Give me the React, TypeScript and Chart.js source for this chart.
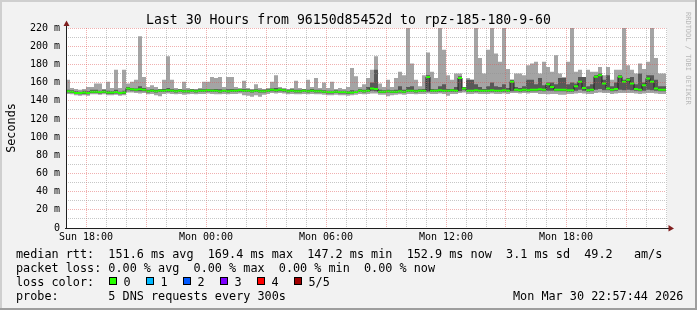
import React, { useEffect, useRef } from 'react';
import { Chart, registerables } from 'chart.js';

Chart.register(...registerables);

const W = 697;
const H = 310;

// 30 hours of data in 12-minute buckets (150 buckets), times in hours since Sun 17:00
const BUCKET_HOURS = 0.2;
const SPAN_HOURS = 30;

// median rtt (ms)
const rttMedian = [
  150, 150.5, 150, 148.5, 148.5, 149, 148.5, 150, 150, 149.5,
  150, 149, 149, 149.5, 148.5, 149, 153.5, 152.5, 152, 152.5,
  152, 150.5, 151, 150.5, 151, 151, 151.5, 151, 150.5, 151,
  150.5, 150.5, 151, 150.5, 151, 151, 151.5, 151, 151, 150.5,
  151, 150.5, 151, 151, 151.5, 151, 151, 150.5, 151, 150.5,
  150.5, 151, 152, 151.5, 152, 151.5, 150.5, 151, 150.5, 150.5,
  151, 150.5, 151, 150.5, 150.5, 150, 149.5, 149.5, 150, 149.5,
  149.5, 149, 149, 149.5, 151, 150.5, 151, 153.5, 153, 150,
  150, 150.5, 150, 150, 150.5, 150, 151, 151, 150.5, 151,
  151, 166, 151, 151, 151.5, 151, 151, 151.5, 151, 165,
  153.5, 151, 151, 151.5, 151, 151, 151, 151.5, 151, 151,
  151.5, 151, 161, 152, 151.5, 152, 151.5, 152, 152, 152.5,
  152, 158, 155, 152, 152, 152, 151.5, 151.5, 156, 161,
  154, 151.5, 152, 166.5, 168, 159, 153.5, 152, 153, 166.5,
  161, 163, 159, 153, 152, 157, 164.5, 161, 153.5, 152,
];

// highest ping of each bucket (outer smoke top)
const rttMax = [
  163, 163, 154, 153, 152, 153, 155, 155, 159, 159,
  153, 161, 154, 174, 154, 174, 159, 161, 163, 211,
  166, 155, 157, 155, 153, 163, 189, 163, 154, 153,
  161, 154, 153, 153, 154, 161, 161, 166, 165, 166,
  155, 166, 166, 155, 154, 162, 154, 153, 158, 154,
  153, 154, 161, 168, 155, 154, 153, 154, 162, 154,
  153, 163, 155, 165, 154, 160, 154, 161, 153, 154,
  153, 155, 176, 167, 155, 158, 165, 174, 189, 159,
  155, 163, 155, 165, 172, 168, 220, 181, 163, 156,
  168, 193, 172, 165, 220, 196, 168, 163, 170, 170,
  155, 165, 163, 220, 187, 170, 196, 220, 192, 183,
  220, 175, 163, 170, 170, 168, 179, 181, 183, 170,
  183, 177, 172, 190, 170, 166, 183, 220, 172, 174,
  163, 174, 172, 172, 177, 168, 177, 163, 174, 174,
  220, 179, 174, 170, 181, 175, 183, 220, 187, 170,
];

// 4th of 5 pings (inner smoke top)
const rttHigh = [
  152, 152, 151.5, 150.5, 150, 151, 150.5, 152, 152, 151,
  152, 151, 150.5, 152, 150, 151, 155, 154, 153.5, 156,
  154, 152, 152.5, 152, 152.5, 153, 154, 152.5, 152, 152.5,
  152, 152, 152.5, 152, 152.5, 152.5, 153, 152.5, 153, 152.5,
  152, 152.5, 153, 152.5, 153, 153, 152.5, 152, 152.5, 152,
  152, 152.5, 153.5, 154, 153.5, 153, 152, 152.5, 152, 152,
  152.5, 152, 153, 152, 152, 151.5, 151, 151, 151.5, 151,
  151, 150.5, 151.5, 151, 152.5, 152, 155, 160, 174, 152,
  151.5, 152, 151.5, 152, 156, 152, 155, 156, 152, 152.5,
  153, 168, 153, 152.5, 156, 158, 153, 153, 155, 167,
  155, 163, 163, 158, 155, 153, 156, 160, 156, 155,
  158, 154, 163, 155, 154, 156, 163, 163, 158, 165,
  157, 160, 160, 158, 165, 165, 158, 160, 159, 166,
  166, 156, 158, 168, 170, 163, 168, 156, 160, 168,
  163, 165, 166, 158, 170, 160, 168, 168, 163, 156,
];

// 2nd of 5 pings (inner smoke bottom)
const rttLow = [
  148.5, 149, 148.5, 147.5, 147, 147.5, 147, 148.5, 148.5, 148,
  148.5, 147.5, 147.5, 148, 147, 147.5, 151.5, 151, 150.5, 150.5,
  150.5, 149, 149.5, 149, 149.5, 149.5, 150, 149.5, 149, 149.5,
  149, 149, 149.5, 149, 149.5, 149.5, 150, 149.5, 149.5, 149,
  149.5, 149, 149.5, 149.5, 150, 149.5, 149.5, 149, 149.5, 149,
  149, 149.5, 150.5, 150, 150.5, 150, 149, 149.5, 149, 149,
  149.5, 149, 149.5, 149, 149, 148.5, 148, 148, 148.5, 148,
  148, 147.5, 148, 148.5, 149.5, 149, 149.5, 151, 150.5, 148.5,
  148.5, 149, 148.5, 148.5, 149, 148.5, 149.5, 149.5, 149, 149.5,
  149.5, 150, 149.5, 149.5, 150, 149.5, 149.5, 150, 149.5, 150.5,
  151.5, 149.5, 149.5, 150, 149.5, 149.5, 149.5, 150, 149.5, 149.5,
  150, 149.5, 150.5, 150.5, 150, 150.5, 150, 150.5, 150.5, 151,
  150.5, 151, 151, 150.5, 150.5, 150.5, 150, 150, 151, 152,
  151, 150, 150.5, 152, 153, 151.5, 151.5, 150.5, 151, 152,
  151.5, 152, 151.5, 151, 150.5, 151, 152, 151.5, 151, 150.5,
];

// lowest ping of each bucket (outer smoke bottom)
const rttMin = [
  147, 147.5, 147, 146, 145.5, 146, 145.5, 147, 147, 146.5,
  147, 146, 146, 146.5, 145.5, 146, 149, 149, 148.5, 148,
  148.5, 147, 147.5, 146, 145, 147.5, 148, 147.5, 147, 147.5,
  146.5, 147, 147.5, 147, 147.5, 147.5, 148, 147.5, 147, 147,
  147.5, 147, 147.5, 147.5, 148, 146, 145.5, 144.5, 146, 144.5,
  146.5, 147.5, 148.5, 148, 148.5, 148, 147, 147.5, 147, 147,
  147.5, 147, 147.5, 147, 147, 146.5, 146, 146, 146.5, 146,
  146, 145.5, 146, 146.5, 147.5, 147, 147.5, 148, 148, 146.5,
  146.5, 145, 146, 146.5, 147, 146.5, 147.5, 147.5, 147, 147.5,
  147.5, 148, 147.5, 147.5, 148, 147.5, 145.5, 147.5, 147.5, 148.5,
  149, 147.5, 147.5, 148, 147.5, 147.5, 147.5, 148, 147.5, 147.5,
  148, 147.5, 148.5, 148.5, 148, 148.5, 148, 148.5, 148.5, 147.5,
  147.5, 147, 147.5, 147.5, 146.5, 146.5, 147.5, 147.5, 148, 148.5,
  148, 147.5, 147.5, 148.5, 149, 148.5, 148.5, 147.5, 148, 148.5,
  148.5, 148.5, 148.5, 148, 147.5, 148, 148.5, 148.5, 148, 147.5,
];

// axis ticks
const xTickHours = [
  0, 1, 2, 3, 4, 5, 6, 7, 8, 9, 10, 11, 12, 13, 14, 15,
  16, 17, 18, 19, 20, 21, 22, 23, 24, 25, 26, 27, 28, 29, 30,
];
const xLabelHours = [1, 7, 13, 19, 25];
const xLabelTexts = ['Sun 18:00', 'Mon 00:00', 'Mon 06:00', 'Mon 12:00', 'Mon 18:00'];
const yTickValues = [0, 10, 20, 30, 40, 50, 60, 70, 80, 90, 100, 110, 120, 130, 140, 150, 160, 170, 180, 190, 200, 210, 220];
const yTickLabels = ['0', '', '20 m', '', '40 m', '', '60 m', '', '80 m', '', '100 m', '', '120 m', '', '140 m', '', '160 m', '', '180 m', '', '200 m', '', '220 m'];

// texts
const titleText = 'Last 30 Hours from 96150d85452d to rpz-185-180-9-60';
const yAxisTitle = 'Seconds';
const watermark = 'RRDTOOL / TOBI OETIKER';
const legendLines = [
  'median rtt:  151.6 ms avg  169.4 ms max  147.2 ms min  152.9 ms now  3.1 ms sd  49.2   am/s',
  'packet loss: 0.00 % avg  0.00 % max  0.00 % min  0.00 % now',
  'loss color:',
  'probe:       5 DNS requests every 300s',
];
const lossLabels = ['0', '1', '2', '3', '4', '5/5'];
const lossColors = ['#26ff00', '#00b8ff', '#0059ff', '#7e00ff', '#ff0000', '#a00000'];
const dateText = 'Mon Mar 30 22:57:44 2026';

const MONO = '"DejaVu Sans Mono", monospace';
const MEDIAN_BAND = 1.1;

function toPoints(values: number[]) {
  const pts = values.map((v, i) => ({ x: i * BUCKET_HOURS, y: v }));
  pts.push({ x: SPAN_HOURS, y: values[values.length - 1] });
  return pts;
}

const rrdPlugin = {
  id: 'rrdFrame',
  beforeDraw(chart: any) {
    const { ctx, chartArea: a } = chart;
    ctx.save();
    ctx.fillStyle = '#f2f2f2';
    ctx.fillRect(0, 0, W, H);
    ctx.fillStyle = '#cfcfcf';
    ctx.fillRect(0, 0, W, 2);
    ctx.fillRect(0, 0, 2, H);
    ctx.fillStyle = '#9e9e9e';
    ctx.fillRect(0, H - 2, W, 2);
    ctx.fillRect(W - 2, 0, 2, H);
    ctx.fillStyle = '#ffffff';
    ctx.fillRect(a.left, a.top, a.right - a.left + 1, a.bottom - a.top);
    ctx.restore();
  },
  afterDraw(chart: any) {
    const { ctx, chartArea: a } = chart;
    ctx.save();
    // axes
    ctx.strokeStyle = '#1f1f1f';
    ctx.lineWidth = 1;
    ctx.beginPath();
    ctx.moveTo(a.left + 0.5, a.bottom + 1);
    ctx.lineTo(a.left + 0.5, a.top - 3);
    ctx.stroke();
    ctx.beginPath();
    ctx.moveTo(a.left - 1, a.bottom + 0.5);
    ctx.lineTo(a.right + 3, a.bottom + 0.5);
    ctx.stroke();
    // arrows
    ctx.fillStyle = 'rgb(128,31,31)';
    ctx.beginPath();
    ctx.moveTo(a.left - 2.5, a.top - 2);
    ctx.lineTo(a.left + 3.5, a.top - 2);
    ctx.lineTo(a.left + 0.5, a.top - 7.5);
    ctx.closePath();
    ctx.fill();
    ctx.beginPath();
    ctx.moveTo(a.right + 2.5, a.bottom - 3);
    ctx.lineTo(a.right + 2.5, a.bottom + 3.5);
    ctx.lineTo(a.right + 8, a.bottom + 0.5);
    ctx.closePath();
    ctx.fill();

    // title
    ctx.fillStyle = '#000';
    ctx.textBaseline = 'alphabetic';
    ctx.textAlign = 'center';
    ctx.font = `13.2px ${MONO}`;
    ctx.fillText(titleText, W / 2, 24);

    // y axis title
    ctx.font = `11.8px ${MONO}`;
    ctx.save();
    ctx.translate(15, (a.top + a.bottom) / 2);
    ctx.rotate(-Math.PI / 2);
    ctx.textAlign = 'center';
    ctx.fillText(yAxisTitle, 0, 0);
    ctx.restore();

    // watermark
    ctx.save();
    ctx.fillStyle = '#b8b8b8';
    ctx.font = `7px ${MONO}`;
    ctx.translate(686, 12);
    ctx.rotate(Math.PI / 2);
    ctx.textAlign = 'left';
    ctx.fillText(watermark, 0, 0);
    ctx.restore();

    // legend
    ctx.textAlign = 'left';
    ctx.font = `11.8px ${MONO}`;
    const baselines = [257.5, 271.7, 285.7, 300];
    legendLines.forEach((t, i) => ctx.fillText(t, 16, baselines[i]));
    lossLabels.forEach((lab, i) => {
      const bx = 109 + i * 37;
      ctx.fillStyle = lossColors[i];
      ctx.fillRect(bx, 277, 8, 8);
      ctx.strokeStyle = '#000';
      ctx.lineWidth = 1;
      ctx.strokeRect(bx + 0.5, 277.5, 7, 7);
      ctx.fillStyle = '#000';
      ctx.fillText(lab, bx + 14.5, baselines[2]);
    });
    ctx.fillText(dateText, 513, baselines[3]);
    ctx.restore();
  },
};

const MAJOR = 'rgba(222,79,79,0.45)';
const MINOR = 'rgba(143,143,143,0.5)';

export default function App() {
  const ref = useRef<HTMLCanvasElement>(null);

  useEffect(() => {
    if (!ref.current) return;
    const clear = 'rgba(0,0,0,0)';
    const base = { pointRadius: 0, borderWidth: 0, borderColor: clear, stepped: 'after' as const };
    const chart = new Chart(ref.current, {
      type: 'line',
      data: {
        datasets: [
          { ...base, label: 'median band top', data: toPoints(rttMedian.map((v) => v + MEDIAN_BAND)), fill: '+1', backgroundColor: '#26ff00' },
          { ...base, label: 'median band bottom', data: toPoints(rttMedian.map((v) => v - MEDIAN_BAND)), fill: false },
          { ...base, label: 'median', data: toPoints(rttMedian), fill: false, borderWidth: 1, borderColor: '#202020' },
          { ...base, label: 'ping 4', data: toPoints(rttHigh), fill: '+1', backgroundColor: '#585858' },
          { ...base, label: 'ping 2', data: toPoints(rttLow), fill: false },
          { ...base, label: 'ping 5', data: toPoints(rttMax), fill: '+1', backgroundColor: '#a4a4a4' },
          { ...base, label: 'ping 1', data: toPoints(rttMin), fill: false },
        ],
      },
      options: {
        animation: false,
        responsive: false,
        devicePixelRatio: 1,
        events: [],
        layout: { padding: { left: 0, right: 31, top: 28, bottom: 0 } },
        plugins: { legend: { display: false }, tooltip: { enabled: false }, title: { display: false } },
        scales: {
          x: {
            type: 'linear',
            min: 0,
            max: SPAN_HOURS,
            afterFit: (s: any) => { s.height = 82; },
            afterBuildTicks: (s: any) => { s.ticks = xTickHours.map((v) => ({ value: v })); },
            ticks: {
              autoSkip: false,
              maxRotation: 0,
              minRotation: 0,
              padding: 3,
              color: '#000',
              font: { family: MONO, size: 10 },
              callback: (v: any) => {
                const k = xLabelHours.indexOf(Number(v));
                return k >= 0 ? xLabelTexts[k] : '';
              },
            },
            grid: {
              z: 1,
              drawTicks: false,
              lineWidth: 1,
              color: (c: any) => (c.tick && (c.tick.value - 1) % 3 === 0 ? MAJOR : MINOR),
            },
            border: { display: false, dash: [1, 1] },
          },
          y: {
            type: 'linear',
            min: 0,
            max: 220,
            afterFit: (s: any) => { s.width = 66; },
            afterBuildTicks: (s: any) => { s.ticks = yTickValues.map((v) => ({ value: v })); },
            ticks: {
              autoSkip: false,
              padding: 6,
              color: '#000',
              font: { family: MONO, size: 10 },
              callback: (v: any) => {
                const k = yTickValues.indexOf(Number(v));
                return k >= 0 ? yTickLabels[k] : '';
              },
            },
            grid: {
              z: 1,
              drawTicks: false,
              lineWidth: 1,
              color: (c: any) => (c.tick && c.tick.value % 20 === 0 ? MAJOR : MINOR),
            },
            border: { display: false, dash: [1, 1] },
          },
        },
      },
      plugins: [rrdPlugin],
    } as any);
    return () => chart.destroy();
  }, []);

  return (
    <div style={{ position: 'absolute', left: 0, top: 0, width: W, height: H }}>
      <canvas ref={ref} width={W} height={H} style={{ display: 'block', width: W, height: H }} />
    </div>
  );
}
